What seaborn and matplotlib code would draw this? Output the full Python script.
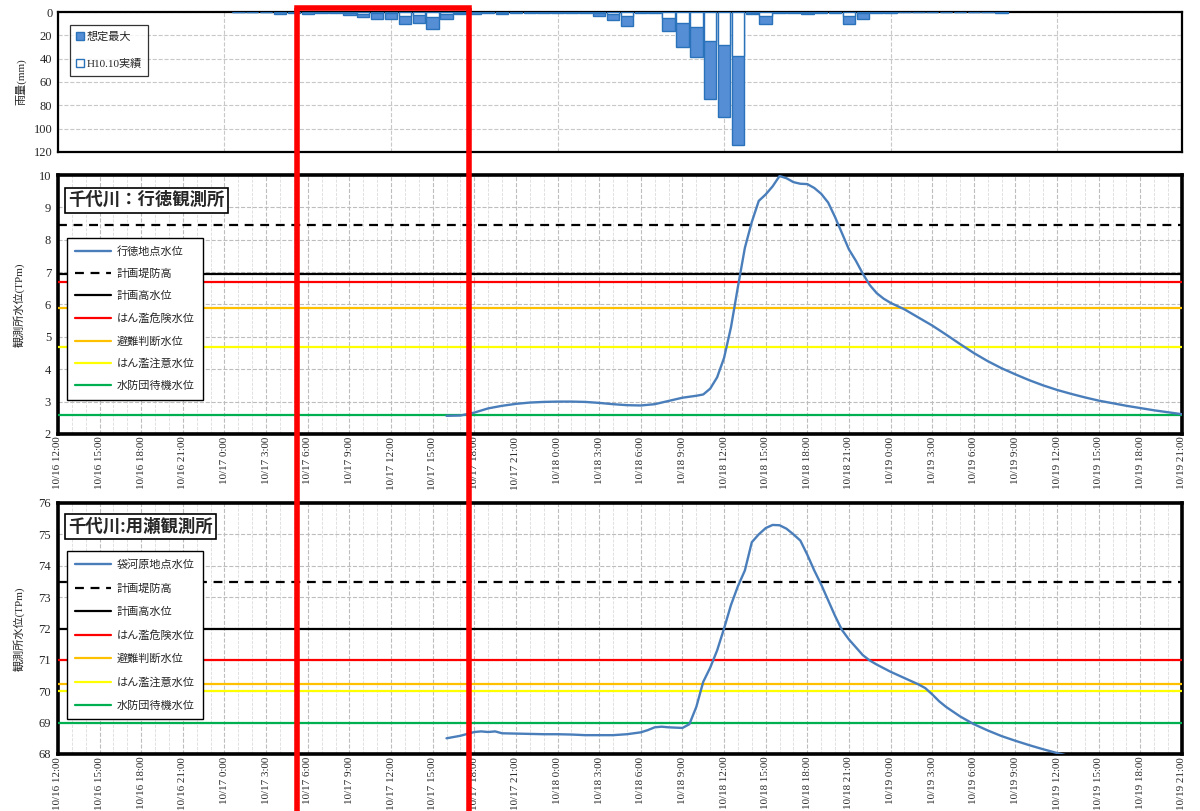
import matplotlib
matplotlib.use("Agg")
import matplotlib.pyplot as plt
import matplotlib.transforms as mtransforms
from matplotlib.lines import Line2D
from matplotlib.ticker import MultipleLocator
import pandas as pd
import seaborn as sns

# time axis: hours counted from 10/16 12:00
START = "1998-10-16 12:00"
N_HOURS = 81

# hourly rainfall (mm), bar centred on the hour
rain_hours = list(range(13, 69))
rain_max = [0.4, 0.4, 0.4, 1.8, 0.5, 2.0, 1.0, 1.0, 2.7, 4.5,
            5.6, 6.3, 10.4, 9.0, 14.4, 6.1, 2.0, 1.5, 0.5, 1.8,
            0.5, 1.0, 0.5, 1.0, 0.5, 1.0, 3.8, 6.7, 12.4, 1.0,
            1.0, 16.2, 30.2, 38.8, 74.7, 89.9, 113.7, 1.5, 10.2, 0.5,
            1.0, 2.0, 0.5, 0.5, 10.3, 5.9, 1.0, 0.5, 0.0, 0.0,
            0.0, 0.0, 0.0, 0.0, 0.0, 0.6]
rain_h10 = [0.2, 0.2, 0.2, 0.3, 0.2, 0.4, 0.3, 0.3, 1.0, 1.8,
            1.0, 1.0, 3.5, 2.6, 4.3, 1.6, 0.5, 0.4, 0.2, 0.5,
            0.2, 0.3, 0.2, 0.3, 0.2, 0.3, 1.0, 1.5, 3.8, 0.3,
            0.3, 5.3, 9.6, 13.0, 24.5, 28.6, 37.4, 0.5, 3.3, 0.2,
            0.3, 0.6, 0.2, 0.2, 3.0, 1.2, 0.3, 0.2, 0.0, 0.0,
            0.0, 0.0, 0.0, 0.0, 0.0, 0.2]

# 行徳 water level (TPm)
gyotoku_hours = [28, 29, 30, 31, 32, 33, 34, 35, 36, 37, 38, 39, 40, 41, 42, 43,
                 44, 45, 46, 46.5, 47, 47.5, 48, 48.5, 49, 49.5, 50, 50.5, 51,
                 51.5, 52, 52.5, 53, 53.5, 54, 54.5, 55, 55.5, 56, 56.5, 57,
                 57.5, 58, 58.5, 59, 59.5, 60, 61, 62, 63, 64, 65, 66, 67, 68,
                 69, 70, 71, 72, 73, 74, 75, 76, 77, 78, 79, 80, 81]
gyotoku_level = [2.56, 2.57, 2.66, 2.79, 2.87, 2.93, 2.97, 2.99, 3.00, 3.00,
                 2.99, 2.96, 2.92, 2.89, 2.88, 2.92, 3.02, 3.12, 3.18, 3.22,
                 3.40, 3.75, 4.35, 5.30, 6.55, 7.75, 8.55, 9.20, 9.40, 9.65,
                 9.97, 9.90, 9.78, 9.73, 9.72, 9.60, 9.42, 9.15, 8.70, 8.20,
                 7.70, 7.35, 6.95, 6.60, 6.35, 6.18, 6.05, 5.85, 5.60, 5.35,
                 5.07, 4.78, 4.50, 4.25, 4.03, 3.84, 3.66, 3.50, 3.36, 3.24,
                 3.13, 3.03, 2.95, 2.87, 2.80, 2.73, 2.67, 2.61]

# 用瀬 (袋河原) water level (TPm)
mochigase_hours = [28, 29, 29.5, 30, 30.5, 31, 31.5, 32, 33, 34, 35, 36, 37, 38,
                   39, 40, 41, 42, 42.5, 43, 43.5, 44, 45, 45.5, 46, 46.5, 47,
                   47.5, 48, 48.5, 49, 49.5, 50, 50.5, 51, 51.5, 52, 52.5, 53,
                   53.5, 54, 54.5, 55, 55.5, 56, 56.5, 57, 57.5, 58, 58.5, 59,
                   60, 61, 62, 62.5, 63, 63.5, 64, 65, 66, 67, 68, 69, 70, 71,
                   72, 73]
mochigase_level = [68.50, 68.58, 68.64, 68.70, 68.72, 68.70, 68.72, 68.66,
                   68.65, 68.64, 68.63, 68.63, 68.62, 68.60, 68.60, 68.60,
                   68.63, 68.69, 68.76, 68.85, 68.87, 68.85, 68.83, 68.95,
                   69.50, 70.30, 70.75, 71.30, 72.00, 72.75, 73.35, 73.85,
                   74.75, 75.00, 75.20, 75.30, 75.29, 75.18, 75.00, 74.80,
                   74.35, 73.85, 73.40, 72.90, 72.40, 71.95, 71.65, 71.40,
                   71.15, 70.98, 70.85, 70.62, 70.42, 70.22, 70.10, 69.90,
                   69.68, 69.50, 69.20, 68.95, 68.75, 68.57, 68.42, 68.28,
                   68.15, 68.03, 67.92]

level_names = ["計画堤防高", "計画高水位", "はん濫危険水位",
               "避難判断水位", "はん濫注意水位", "水防団待機水位"]
gyotoku_refs = [8.45, 6.93, 6.71, 5.90, 4.70, 2.60]
mochigase_refs = [73.47, 71.98, 71.00, 70.22, 70.01, 69.00]
level_colors = ["black", "black", "#FF0000", "#FFC000", "#FFFF00", "#00B050"]
level_styles = [(0, (4, 3)), "-", "-", "-", "-", "-"]

# highlighted period (hours)
highlight = (17.2, 29.65)

tick_hours = list(range(0, N_HOURS + 1, 3))
tick_labels = [f"{t.month}/{t.day} {t.hour}:00"
               for t in pd.date_range(START, periods=len(tick_hours), freq="3h")]

sns.set_theme(style="white")
plt.rcParams["font.family"] = ["Liberation Serif", "Noto Sans CJK JP"]

BLUE_FILL = "#558ED5"
BLUE_EDGE = "#2A72BA"
CURVE = "#4A7EBB"

fig = plt.figure(figsize=(12, 8.11), dpi=100)
ax1 = fig.add_axes([0.0483, 0.8126, 0.9367, 0.1726])
ax2 = fig.add_axes([0.0483, 0.4649, 0.9367, 0.3193])
ax3 = fig.add_axes([0.0483, 0.0703, 0.9367, 0.3095])

# ---- rainfall ----
ax1.bar(rain_hours, rain_max, width=0.9, color=BLUE_FILL, edgecolor=BLUE_EDGE,
        linewidth=1.0, zorder=3)
ax1.bar(rain_hours, rain_h10, width=0.9, color="white", edgecolor=BLUE_EDGE,
        linewidth=1.0, zorder=4)
ax1.set_xlim(0, N_HOURS)
ax1.set_ylim(120, 0)
ax1.set_yticks(range(0, 121, 20))
ax1.set_xticks(range(0, N_HOURS + 1, 12))
ax1.set_xticklabels([])
ax1.grid(True, color="#c8c8c8", ls="--", lw=0.8)
ax1.tick_params(length=0, labelsize=9, pad=4)
ax1.set_ylabel("雨量(mm)", fontsize=8)
ax1.yaxis.set_label_coords(-0.0276, 0.5)
for s in ax1.spines.values():
    s.set_color("black")
    s.set_linewidth(1.6)
rain_handles = [
    Line2D([], [], ls="none", marker="s", markersize=5.5, mfc=BLUE_FILL, mec=BLUE_EDGE),
    Line2D([], [], ls="none", marker="s", markersize=5.5, mfc="white", mec=BLUE_EDGE),
]
leg = ax1.legend(rain_handles, ["想定最大", "H10.10実績"], loc="upper left",
                 bbox_to_anchor=(0.0105, 0.905), fontsize=8, frameon=True,
                 fancybox=False, edgecolor="black", labelspacing=1.5,
                 handlelength=0.6, handletextpad=0.3, borderpad=0.6,
                 borderaxespad=0)
leg.get_frame().set_linewidth(0.9)


def level_panel(ax, hours, level, refs, curve_label, ymin, ymax, title, title_y,
                leg_y, spacing):
    sns.lineplot(x=hours, y=level, ax=ax, color=CURVE, lw=1.7, label=curve_label,
                 zorder=6)
    for name, val, col, st in zip(level_names, refs, level_colors, level_styles):
        ax.axhline(val, color=col, ls=st, lw=1.6, label=name, zorder=4)
    ax.set_xlim(0, N_HOURS)
    ax.set_ylim(ymin, ymax)
    ax.yaxis.set_major_locator(MultipleLocator(1))
    ax.set_xticks(tick_hours)
    ax.set_xticklabels(tick_labels, rotation=90, fontsize=7.9)
    ax.xaxis.set_minor_locator(MultipleLocator(1))
    ax.grid(True, which="major", axis="x", color="#bdbdbd", ls="--", lw=0.8)
    ax.grid(True, which="minor", axis="x", color="#dcdcdc", ls="--", lw=0.6)
    ax.grid(True, which="major", axis="y", color="#bdbdbd", ls="--", lw=0.8)
    ax.tick_params(which="both", length=0, pad=2)
    ax.tick_params(axis="y", labelsize=9, pad=5)
    ax.set_xlabel("")
    ax.set_ylabel("観測所水位(TPm)", fontsize=8)
    ax.yaxis.set_label_coords(-0.030, 0.5)
    for s in ax.spines.values():
        s.set_color("black")
        s.set_linewidth(2.6)
    ax.text(0.009, title_y, title, transform=ax.transAxes, ha="left", va="top",
            fontsize=12.5, fontweight="bold", family=["Noto Sans CJK JP"],
            bbox=dict(boxstyle="square,pad=0.2", fc="white", ec="black", lw=1.2),
            zorder=10)
    lg = ax.legend(loc="upper left", bbox_to_anchor=(0.008, leg_y), fontsize=8,
                   frameon=True, fancybox=False, edgecolor="black",
                   labelspacing=spacing, handlelength=3.2, handletextpad=0.5,
                   borderpad=0.75, borderaxespad=0)
    lg.get_frame().set_linewidth(1.0)
    lg.get_frame().set_alpha(1)
    lg.set_zorder(10)


level_panel(ax2, gyotoku_hours, gyotoku_level, gyotoku_refs, "行徳地点水位",
            2, 10, "千代川：行徳観測所", 0.938, 0.757, 1.08)
level_panel(ax3, mochigase_hours, mochigase_level, mochigase_refs, "袋河原地点水位",
            68, 76, "千代川:用瀬観測所", 0.942, 0.808, 1.18)

# ---- red highlight frame across all panels ----
trans = mtransforms.blended_transform_factory(ax3.transData, fig.transFigure)
top = 1 - 7.5 / 811
for xv in highlight:
    fig.add_artist(Line2D([xv, xv], [0, top], transform=trans, color="#FF0000",
                          lw=4.0, solid_capstyle="butt", zorder=20))
fig.add_artist(Line2D(list(highlight), [top, top], transform=trans, color="#FF0000",
                      lw=4.0, solid_capstyle="projecting", zorder=20))

fig.savefig("out.png", dpi=100)
